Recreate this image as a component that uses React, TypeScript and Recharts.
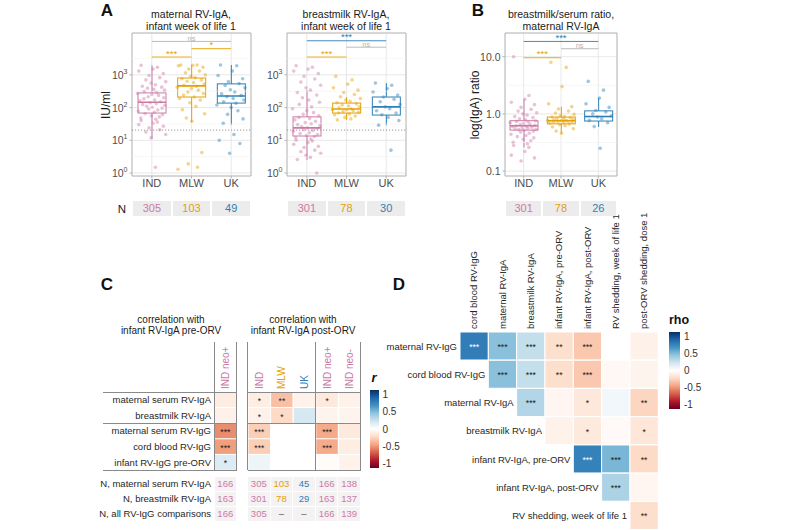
import React from 'react'
import {
  ComposedChart,
  BarChart,
  Bar,
  Scatter,
  XAxis,
  YAxis,
  CartesianGrid,
  ReferenceLine,
  ReferenceArea,
  Cell,
  LabelList,
} from 'recharts'

const FONT = '"Liberation Sans", Arial, Helvetica, sans-serif'
const IND_C = '#CC79A7'
const MLW_C = '#E69F00'
const UK_C = '#2C7FB8'
const NS_C = '#b3b3b3'
const AXIS_TXT = '#4d4d4d'

const sites = ['IND', 'MLW', 'UK']
const siteColors = [IND_C, MLW_C, UK_C]

// box stats per site: [lower whisker, q1, median, q3, upper whisker]
const matIgaBox = [[11, 68, 145, 280, 1950], [36, 210, 460, 800, 2000], [30, 137, 225, 530, 2000]]
const milkIgaBox = [[2.5, 13.5, 24, 52, 345], [42, 68, 90, 137, 210], [29, 59, 105, 210, 560]]
const ratioBox = [[0.26, 0.52, 0.62, 0.76, 1.76], [0.46, 0.67, 0.76, 0.88, 1.34], [0.59, 0.75, 0.9, 1.13, 1.9]]

// individual values (a readable subset of the jittered points)
const matIgaInd = [1950, 1700, 1500, 1300, 1100, 950, 820, 700, 620, 560, 500, 450, 420, 390, 360, 340, 310, 290, 270, 250, 235, 215, 200, 185, 170, 160, 150, 140, 132, 125, 118, 110, 102, 96, 90, 84, 78, 72, 66, 61, 56, 52, 48, 44, 40, 36, 33, 30, 27, 24, 21, 18, 15, 12, 1.5]
const matIgaMlw = [2000, 2000, 1950, 1900, 1700, 1500, 1300, 1150, 1000, 900, 820, 760, 700, 640, 580, 520, 480, 450, 420, 380, 340, 300, 270, 240, 210, 190, 170, 140, 110, 85, 65, 48, 38, 4.2, 1.9, 1.5, 1.3]
const matIgaUk = [2000, 1900, 1300, 950, 760, 620, 540, 470, 400, 350, 300, 265, 235, 215, 190, 170, 150, 135, 120, 100, 80, 62, 45, 33, 15, 10, 8, 4]

const milkIgaInd = [1900, 1700, 1500, 1300, 1100, 900, 750, 600, 480, 400, 340, 290, 240, 200, 170, 145, 125, 105, 92, 80, 70, 62, 56, 50, 46, 42, 38, 35, 32, 30, 28, 26, 24, 23, 21, 20, 19, 17, 16, 15, 14, 13, 12, 11, 10, 9.5, 8.5, 7.5, 6.5, 6, 5, 4.5, 4, 3.5, 3, 2.6, 1.0]
const milkIgaMlw = [900, 700, 520, 400, 340, 290, 250, 215, 190, 170, 155, 140, 130, 120, 112, 105, 98, 92, 88, 84, 80, 76, 72, 68, 64, 60, 55, 50, 45, 42]
const milkIgaUk = [560, 480, 380, 300, 240, 210, 180, 150, 125, 105, 92, 80, 68, 60, 50, 40, 29, 5]

const ratioInd = [10, 2.1, 1.8, 1.6, 1.45, 1.3, 1.2, 1.12, 1.05, 1.0, 0.95, 0.9, 0.86, 0.82, 0.79, 0.76, 0.74, 0.72, 0.7, 0.68, 0.66, 0.65, 0.63, 0.62, 0.61, 0.6, 0.58, 0.57, 0.56, 0.55, 0.54, 0.53, 0.52, 0.5, 0.48, 0.46, 0.44, 0.42, 0.4, 0.38, 0.36, 0.34, 0.32, 0.3, 0.28, 0.26, 0.22, 0.19, 0.17, 0.15]
const ratioMlw = [8, 6.5, 3, 1.5, 1.34, 1.22, 1.12, 1.04, 0.98, 0.93, 0.9, 0.88, 0.86, 0.84, 0.82, 0.8, 0.79, 0.78, 0.77, 0.76, 0.75, 0.74, 0.73, 0.72, 0.7, 0.69, 0.67, 0.65, 0.62, 0.59, 0.55, 0.5, 0.46]
const ratioUk = [3.7, 2.6, 1.9, 1.5, 1.3, 1.15, 1.08, 1.0, 0.93, 0.88, 0.82, 0.77, 0.7, 0.6, 0.25]

// horizontal jitter offsets, reused by every group
const jitter = [-0.27, 0.14, 0.03, -0.33, 0.29, -0.07, 0.2, -0.15, 0.35, -0.02, 0.09, -0.24, 0.25, -0.11, 0.05, 0.32, -0.19, 0.12, -0.36, 0.0, 0.17, -0.09, 0.3, -0.2, 0.07, -0.3, 0.22, -0.04, 0.11, -0.23, 0.33, -0.13, 0.01, 0.26, -0.08, 0.15, -0.34, 0.06, -0.17, 0.27, -0.01, 0.19, -0.28, 0.1]

const matIgaSig = [
  { from: 1, to: 2, y: 3500, label: '***', color: MLW_C },
  { from: 2, to: 3, y: 6300, label: '*', color: MLW_C },
  { from: 1, to: 3, y: 10500, label: 'ns', color: NS_C },
]
const milkIgaSig = [
  { from: 1, to: 2, y: 3500, label: '***', color: MLW_C },
  { from: 2, to: 3, y: 7000, label: 'ns', color: NS_C },
  { from: 1, to: 3, y: 11000, label: '***', color: UK_C },
]
const ratioSig = [
  { from: 1, to: 2, y: 9.6, label: '***', color: MLW_C },
  { from: 2, to: 3, y: 13.8, label: 'ns', color: NS_C },
  { from: 1, to: 3, y: 18.5, label: '***', color: UK_C },
]

const matIgaN = ['305', '103', '49']
const milkIgaN = ['301', '78', '30']
const ratioN = ['301', '78', '26']

// panel C
const cRows = ['maternal serum RV-IgA', 'breastmilk RV-IgA', 'maternal serum RV-IgG', 'cord blood RV-IgG', 'infant RV-IgG pre-ORV']
const cPreCols = ['IND neo+']
const cPostCols = ['IND', 'MLW', 'UK', 'IND neo+', 'IND neo-']
const cColColors: Record<string, string> = { IND: IND_C, MLW: MLW_C, UK: UK_C, 'IND neo+': IND_C, 'IND neo-': IND_C }
const cPreR = [[-0.1], [-0.08], [-0.47], [-0.42], [0.15]]
const cPreStars = [[''], [''], ['***'], ['***'], ['*']]
const cPostR = [
  [-0.1, -0.3, -0.07, -0.12, -0.07],
  [-0.08, -0.2, 0.18, -0.06, -0.06],
  [-0.25, null, null, -0.38, -0.12],
  [-0.25, null, null, -0.38, -0.1],
  [0.08, null, null, -0.02, -0.07],
]
const cPostStars = [
  ['*', '**', '', '*', ''],
  ['*', '*', '', '', ''],
  ['***', '', '', '***', ''],
  ['***', '', '', '***', ''],
  ['', '', '', '', ''],
]
const cNLabels = ['N, maternal serum RV-IgA', 'N, breastmilk RV-IgA', 'N, all RV-IgG comparisons']
const cNPre = ['166', '163', '166']
const cNPost = [
  ['305', '103', '45', '166', '138'],
  ['301', '78', '29', '163', '137'],
  ['305', '–', '–', '166', '139'],
]

// panel D
const dCols = ['cord blood RV-IgG', 'maternal RV-IgA', 'breastmilk RV-IgA', 'infant RV-IgA, pre-ORV', 'infant RV-IgA, post-ORV', 'RV shedding, week of life 1', 'post-ORV shedding, dose 1']
const dRows = ['maternal RV-IgG', 'cord blood RV-IgG', 'maternal RV-IgA', 'breastmilk RV-IgA', 'infant RV-IgA, pre-ORV', 'infant RV-IgA, post-ORV', 'RV shedding, week of life 1']
const dRho = [
  [0.7, 0.42, 0.24, -0.18, -0.27, 0, -0.08],
  [null, 0.42, 0.24, -0.18, -0.27, -0.04, -0.06],
  [null, null, 0.3, -0.05, -0.13, 0.06, -0.22],
  [null, null, null, -0.07, -0.12, -0.03, -0.14],
  [null, null, null, null, 0.68, 0.46, -0.2],
  [null, null, null, null, null, 0.32, -0.05],
  [null, null, null, null, null, null, -0.18],
]
const dStars = [
  ['***', '***', '***', '**', '***', '', ''],
  ['', '***', '***', '**', '***', '', ''],
  ['', '', '***', '', '*', '', '**'],
  ['', '', '', '', '*', '', '*'],
  ['', '', '', '', '***', '***', '**'],
  ['', '', '', '', '', '***', ''],
  ['', '', '', '', '', '', '**'],
]

const rdbuStops = ['#67001f', '#b2182b', '#d6604d', '#f4a582', '#fddbc7', '#ffffff', '#d1e5f0', '#92c5de', '#4393c3', '#2166ac', '#053061']

function hex(c: string) {
  return [1, 3, 5].map((i) => parseInt(c.slice(i, i + 2), 16))
}

function rdbu(v: number) {
  const t = (Math.max(-1, Math.min(1, v)) + 1) * 5
  const i = Math.min(9, Math.floor(t))
  const f = t - i
  const a = hex(rdbuStops[i])
  const b = hex(rdbuStops[i + 1])
  return `rgb(${a.map((x, k) => Math.round(x + (b[k] - x) * f)).join(',')})`
}

const gradient = `linear-gradient(to bottom, ${[...rdbuStops].reverse().join(', ')})`

const PLOT_TOP = 33
const PLOT_H = 143
const Y_W = 32

function Txt({ x, y, children, size = 10, color = '#1a1a1a', align = 'center', weight = 400, rotate = false, italic = false }: any) {
  const tx = align === 'center' ? '-50%' : align === 'right' ? '-100%' : '0'
  return (
    <div
      style={{
        position: 'absolute',
        left: x,
        top: y,
        transform: `translate(${tx}, -50%)${rotate ? ' rotate(-90deg)' : ''}`,
        fontSize: size,
        color,
        fontWeight: weight,
        fontStyle: italic ? 'italic' : 'normal',
        whiteSpace: 'nowrap',
        lineHeight: 1.1,
        textAlign: 'center',
      }}
    >
      {children}
    </div>
  )
}

const PowTick = ({ x, y, payload }: any) => (
  <text x={x} y={y} dy={4} textAnchor="end" fill={AXIS_TXT} fontSize={10.5}>
    10<tspan dy={-5} fontSize={7}>{Math.round(Math.log10(payload.value))}</tspan>
  </text>
)

const DecTick = ({ x, y, payload }: any) => (
  <text x={x} y={y} dy={4} textAnchor="end" fill={AXIS_TXT} fontSize={10.5}>
    {Number(payload.value).toFixed(1)}
  </text>
)

const BoxShape = (props: any) => {
  const { x, y, width, height, payload } = props
  const [lo, q1, med, q3, hi] = payload.stats
  const c = payload.color
  const py = (v: number) => y + (height * (Math.log(hi) - Math.log(v))) / (Math.log(hi) - Math.log(lo))
  const cx = x + width / 2
  return (
    <g>
      <line x1={cx} x2={cx} y1={y} y2={y + height} stroke={c} strokeWidth={1} />
      <rect x={x} y={py(q3)} width={width} height={py(q1) - py(q3)} fill="#fff" stroke={c} strokeWidth={1} />
      <line x1={x} x2={x + width} y1={py(med)} y2={py(med)} stroke={c} strokeWidth={1.6} />
    </g>
  )
}

function BoxPanel({ plotLeft, plotW, boxes, points, sig, domain, ticks, minor, yTick, lod, n }: any) {
  const rows = sites.map((s, i) => ({
    site: s,
    range: [boxes[i][0], boxes[i][4]],
    stats: boxes[i],
    color: siteColors[i],
  }))
  const bandW = plotW / 3
  return (
    <>
      <div style={{ position: 'absolute', left: plotLeft - Y_W, top: PLOT_TOP - 3 }}>
        <ComposedChart
          width={Y_W + plotW + 2}
          height={3 + PLOT_H + 22}
          data={rows}
          margin={{ top: 3, right: 2, bottom: 0, left: 0 }}
        >
          <CartesianGrid stroke="#e2e2e2" strokeWidth={0.8} />
          {minor.map((v: number) => (
            <ReferenceLine key={v} y={v} stroke="#f1f1f1" strokeWidth={0.6} />
          ))}
          <XAxis
            dataKey="site"
            interval={0}
            height={22}
            tickSize={2.5}
            tickMargin={1}
            axisLine={false}
            tickLine={{ stroke: '#b3b3b3' }}
            tick={{ fill: AXIS_TXT, fontSize: 11 }}
          />
          <XAxis xAxisId="num" type="number" dataKey="x" domain={[0.5, 3.5]} allowDataOverflow hide />
          <YAxis
            scale="log"
            type="number"
            domain={domain}
            ticks={ticks}
            allowDataOverflow
            width={Y_W}
            tickSize={2.5}
            tickMargin={2}
            axisLine={false}
            tickLine={{ stroke: '#b3b3b3' }}
            tick={yTick}
          />
          {lod && <ReferenceLine y={lod} stroke="#8c8c8c" strokeDasharray="1.2 1.8" strokeWidth={0.9} />}
          <ReferenceArea
            xAxisId="num"
            x1={0.5}
            x2={3.5}
            y1={domain[0]}
            y2={domain[1]}
            fill="none"
            stroke="#b3b3b3"
            strokeWidth={0.9}
            ifOverflow="visible"
          />
          <Bar dataKey="range" barSize={28} shape={BoxShape} isAnimationActive={false} />
          {sites.map((s, i) => (
            <Scatter
              key={s}
              xAxisId="num"
              dataKey="y"
              data={points[i].map((v: number, k: number) => ({ x: i + 1 + jitter[k % jitter.length], y: v }))}
              isAnimationActive={false}
              shape={(p: any) => <circle cx={p.cx} cy={p.cy} r={1.8} fill={siteColors[i]} fillOpacity={0.45} />}
            />
          ))}
          {sig.map((b: any) => (
            <ReferenceLine
              key={`${b.from}-${b.to}`}
              xAxisId="num"
              segment={[
                { x: b.from, y: b.y },
                { x: b.to, y: b.y },
              ]}
              stroke={b.color}
              strokeWidth={0.9}
              label={{ value: b.label, position: 'top', offset: 0.5, fill: b.color, fontSize: b.label === 'ns' ? 7.5 : 9.5 }}
            />
          ))}
        </ComposedChart>
      </div>
      {n.map((v: string, i: number) => (
        <div
          key={i}
          style={{
            position: 'absolute',
            left: plotLeft + i * bandW + 1,
            top: 201,
            width: bandW - 2,
            height: 15,
            background: '#ececec',
            color: siteColors[i],
            fontSize: 11,
            lineHeight: '15px',
            textAlign: 'center',
          }}
        >
          {v}
        </div>
      ))}
    </>
  )
}

function StarLabel(p: any, rho: (number | null)[][], j: number) {
  const vb = p.viewBox ?? p
  if (!p.value) return null
  const v = rho[p.index]?.[j] ?? 0
  return (
    <text
      x={vb.x + vb.width / 2}
      y={vb.y + vb.height / 2 + 4}
      textAnchor="middle"
      fontSize={8.5}
      fill={v > 0.6 ? '#ffffff' : '#1a1a1a'}
    >
      {p.value}
    </text>
  )
}

function HeatGrid({ rows, cols, rho, stars, plotW, plotH, yW, topH, colTick, rowTick }: any) {
  const data = rows.map((r: string, i: number) => {
    const o: any = { row: r }
    cols.forEach((_: string, j: number) => {
      o['c' + j] = 1
      o['s' + j] = stars[i][j]
    })
    return o
  })
  return (
    <BarChart
      layout="vertical"
      width={yW + plotW}
      height={topH + plotH}
      data={data}
      margin={{ top: 0, right: 0, bottom: 0, left: 0 }}
      barCategoryGap={0}
    >
      <XAxis
        type="number"
        orientation="top"
        domain={[0, cols.length]}
        ticks={cols.map((_: string, j: number) => j + 0.5)}
        interval={0}
        allowDataOverflow
        height={topH}
        tickSize={0}
        tickMargin={3}
        axisLine={false}
        tickLine={false}
        tick={colTick}
      />
      <YAxis
        type="category"
        dataKey="row"
        width={yW}
        hide={!rowTick}
        interval={0}
        tickSize={0}
        tickMargin={3}
        axisLine={false}
        tickLine={false}
        tick={rowTick}
      />
      {cols.map((c: string, j: number) => (
        <Bar key={c + j} dataKey={'c' + j} stackId="h" isAnimationActive={false}>
          {rows.map((r: string, i: number) => {
            const v = rho[i][j]
            return (
              <Cell key={r} fill={v == null ? 'none' : rdbu(v)} stroke={v == null ? 'none' : '#ffffff'} strokeWidth={1} />
            )
          })}
          <LabelList dataKey={'s' + j} content={(p: any) => StarLabel(p, rho, j)} />
        </Bar>
      ))}
    </BarChart>
  )
}

const makeColTick = (names: string[], colorOf: (s: string) => string, size: number) => (p: any) => {
  const name = names[Math.round(p.payload.value - 0.5)]
  return (
    <text
      x={p.x}
      y={p.y}
      dy="0.35em"
      transform={`rotate(-90, ${p.x}, ${p.y})`}
      textAnchor="start"
      fontSize={size}
      fill={colorOf(name)}
    >
      {name}
    </text>
  )
}

const cRowTick = (p: any) => (
  <text x={p.x} y={p.y} dy={3.5} textAnchor="end" fontSize={9.5} fill="#262626">
    {p.payload.value}
  </text>
)

const D_PLOT_W = 198.3
const D_PLOT_H = 197.7
const dCellW = D_PLOT_W / dCols.length

const dRowTick = (p: any) => (
  <text x={p.x + p.index * dCellW} y={p.y} dy={3.5} textAnchor="end" fontSize={9.5} fill="#262626">
    {p.payload.value}
  </text>
)

const C_PRE_LEFT = 214
const C_POST_LEFT = 247.5
const C_CELL_W = 22.6
const C_TOP = 392
const C_PLOT_H = 78
const C_ROW_H = C_PLOT_H / cRows.length
const LINE_C = '#8a8a8a'

function Colorbar({ x, y, w, h, labels }: any) {
  return (
    <>
      <div style={{ position: 'absolute', left: x, top: y, width: w, height: h, background: gradient }} />
      {labels.map((l: any) => (
        <Txt key={l.t} x={x + w + 4} y={l.y} size={10} color="#333" align="left">
          {l.t}
        </Txt>
      ))}
    </>
  )
}

export default function App() {
  const hLine = (x1: number, x2: number, y: number, k: string) => (
    <div key={k} style={{ position: 'absolute', left: x1, top: y - 0.5, width: x2 - x1, height: 1, background: LINE_C }} />
  )
  const vLine = (x: number, y1: number, y2: number, k: string) => (
    <div key={k} style={{ position: 'absolute', left: x - 0.5, top: y1, width: 1, height: y2 - y1, background: LINE_C }} />
  )
  const cPostRight = C_POST_LEFT + C_CELL_W * cPostCols.length
  const cPreRight = C_PRE_LEFT + C_CELL_W
  const cBottom = C_TOP + C_PLOT_H
  const cColX = [C_PRE_LEFT, ...cPostCols.map((_, j) => C_POST_LEFT + j * C_CELL_W)]

  return (
    <div
      style={{
        position: 'absolute',
        left: 0,
        top: 0,
        width: 800,
        height: 530,
        background: '#fff',
        fontFamily: FONT,
        overflow: 'hidden',
      }}
    >
      {/* panel letters */}
      <Txt x={107} y={11} size={17} weight={700} color="#111">A</Txt>
      <Txt x={478} y={11} size={17} weight={700} color="#111">B</Txt>
      <Txt x={107} y={285} size={17} weight={700} color="#111">C</Txt>
      <Txt x={399} y={285} size={17} weight={700} color="#111">D</Txt>

      {/* panel A */}
      <Txt x={191} y={21} size={10.5}>maternal RV-IgA,<br />infant week of life 1</Txt>
      <Txt x={346} y={21} size={10.5}>breastmilk RV-IgA,<br />infant week of life 1</Txt>
      <Txt x={107} y={105} size={12} rotate color="#1a1a1a">IU/ml</Txt>
      <Txt x={122} y={209} size={11.5}>N</Txt>
      <BoxPanel
        plotLeft={132}
        plotW={119}
        boxes={matIgaBox}
        points={[matIgaInd, matIgaMlw, matIgaUk]}
        sig={matIgaSig}
        domain={[0.81, 19000]}
        ticks={[1, 10, 100, 1000]}
        minor={[3.16, 31.6, 316, 3162]}
        yTick={PowTick}
        lod={20.5}
        n={matIgaN}
      />
      <BoxPanel
        plotLeft={287}
        plotW={119}
        boxes={milkIgaBox}
        points={[milkIgaInd, milkIgaMlw, milkIgaUk]}
        sig={milkIgaSig}
        domain={[0.81, 19000]}
        ticks={[1, 10, 100, 1000]}
        minor={[3.16, 31.6, 316, 3162]}
        yTick={PowTick}
        lod={20.5}
        n={milkIgaN}
      />

      {/* panel B */}
      <Txt x={561} y={21} size={10.5}>breastmilk/serum ratio,<br />maternal RV-IgA</Txt>
      <Txt x={476} y={105} size={12} rotate color="#1a1a1a">log(IgA) ratio</Txt>
      <BoxPanel
        plotLeft={505}
        plotW={112}
        boxes={ratioBox}
        points={[ratioInd, ratioMlw, ratioUk]}
        sig={ratioSig}
        domain={[0.082, 26]}
        ticks={[0.1, 1, 10]}
        minor={[0.316, 3.16]}
        yTick={DecTick}
        n={ratioN}
      />

      {/* panel C */}
      <Txt x={171} y={325} size={10}>correlation with<br />infant RV-IgA pre-ORV</Txt>
      <Txt x={303} y={325} size={10}>correlation with<br />infant RV-IgA post-ORV</Txt>
      <div style={{ position: 'absolute', left: C_PRE_LEFT - 114, top: C_TOP - 50 }}>
        <HeatGrid
          rows={cRows}
          cols={cPreCols}
          rho={cPreR}
          stars={cPreStars}
          plotW={C_CELL_W}
          plotH={C_PLOT_H}
          yW={114}
          topH={50}
          colTick={makeColTick(cPreCols, (s) => cColColors[s], 10)}
          rowTick={cRowTick}
        />
      </div>
      <div style={{ position: 'absolute', left: C_POST_LEFT, top: C_TOP - 50 }}>
        <HeatGrid
          rows={cRows}
          cols={cPostCols}
          rho={cPostR}
          stars={cPostStars}
          plotW={C_CELL_W * cPostCols.length}
          plotH={C_PLOT_H}
          yW={0}
          topH={50}
          colTick={makeColTick(cPostCols, (s) => cColColors[s], 10)}
          rowTick={false}
        />
      </div>
      {[C_TOP, C_TOP + 2 * C_ROW_H, cBottom].map((y, k) => (
        <React.Fragment key={k}>
          {hLine(103, cPreRight, y, 'a' + k)}
          {hLine(C_POST_LEFT, cPostRight, y, 'b' + k)}
        </React.Fragment>
      ))}
      {[C_PRE_LEFT, cPreRight, C_POST_LEFT, C_POST_LEFT + 3 * C_CELL_W, cPostRight].map((x, k) =>
        vLine(x, C_TOP - 50, cBottom, 'v' + k)
      )}
      {cNLabels.map((l, r) => (
        <React.Fragment key={l}>
          <Txt x={211} y={484 + r * 15} size={9.5} align="right" color="#262626">{l}</Txt>
          {[cNPre[r], ...cNPost[r]].map((v, j) => {
            const name = j === 0 ? cPreCols[0] : cPostCols[j - 1]
            return (
              <div
                key={j}
                style={{
                  position: 'absolute',
                  left: cColX[j] + 0.5,
                  top: 477 + r * 15,
                  width: C_CELL_W - 1,
                  height: 14,
                  background: '#f4f2f3',
                  color: v === '–' ? '#555' : cColColors[name],
                  fontSize: 9.5,
                  lineHeight: '14px',
                  textAlign: 'center',
                }}
              >
                {v}
              </div>
            )
          })}
        </React.Fragment>
      ))}
      <Txt x={374} y={378} size={13} weight={700} italic color="#111">r</Txt>
      <Colorbar
        x={370}
        y={390}
        w={8.5}
        h={78}
        labels={[
          { t: '1', y: 394 },
          { t: '0.5', y: 411 },
          { t: '0', y: 429 },
          { t: '-0.5', y: 446 },
          { t: '-1', y: 463 },
        ]}
      />

      {/* panel D */}
      <div style={{ position: 'absolute', left: 460 - 160, top: 332.3 - 120 }}>
        <HeatGrid
          rows={dRows}
          cols={dCols}
          rho={dRho}
          stars={dStars}
          plotW={D_PLOT_W}
          plotH={D_PLOT_H}
          yW={160}
          topH={120}
          colTick={makeColTick(dCols, () => '#262626', 9.5)}
          rowTick={dRowTick}
        />
      </div>
      <Txt x={669} y={321} size={12.5} weight={700} color="#111" align="left">rho</Txt>
      <Colorbar
        x={669}
        y={332}
        w={11}
        h={77}
        labels={[
          { t: '1', y: 336 },
          { t: '0.5', y: 353 },
          { t: '0', y: 370 },
          { t: '-0.5', y: 387 },
          { t: '-1', y: 404 },
        ]}
      />
    </div>
  )
}
